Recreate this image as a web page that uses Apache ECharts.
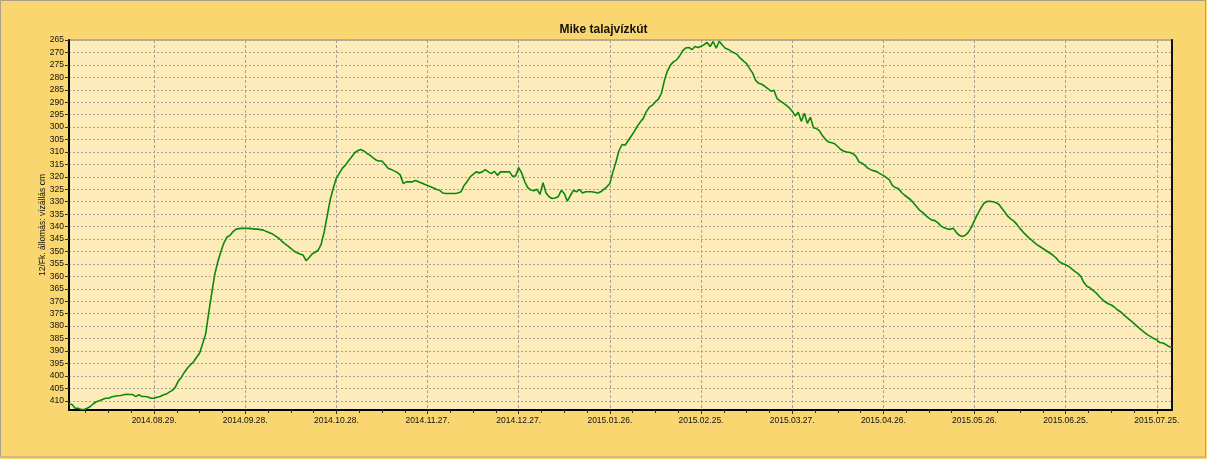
<!DOCTYPE html>
<html>
<head>
<meta charset="utf-8">
<script src="https://cdn.jsdelivr.net/npm/echarts@6/dist/echarts.min.js"></script>
<style>
  html, body { margin: 0; padding: 0; background: #fff; }
  #chart { width: 1207px; height: 459px; }
</style>
</head>
<body>
<div id="chart"></div>
<script>
// daily water level (cm below reference), first value = 2014-08-01
var startDate = [2014, 7, 1];
var levelsAug = [411.3, 411.5, 413, 413, 413.5, 413.5, 413, 412.3, 411.2, 410.4, 410, 409.5, 409, 409, 408.5, 408.2, 408, 407.9, 407.6, 407.4, 407.5, 407.5, 408.3, 407.5, 408.3, 408.3, 408.5, 409, 409, 408.6, 408.3];
var levelsSep = [407.7, 407.3, 406.5, 405.8, 404.5, 402, 400.5, 398.5, 396.8, 395.5, 394.3, 392.5, 390.8, 387, 383, 374.5, 366.5, 359, 354, 350, 346.5, 344.2, 343.5, 342, 341, 340.8, 340.7, 340.7, 340.7, 340.8];
var levelsOct = [341, 341, 341.2, 341.4, 342, 342.5, 343, 343.8, 344.6, 345.8, 346.8, 347.7, 348.7, 349.8, 350.5, 351, 351.4, 353.7, 352.5, 351, 350.3, 349.5, 347, 342, 335.5, 329, 324.5, 320.5, 318.5, 316.5, 315.3];
var levelsNov = [313.5, 312, 310.3, 309.5, 309, 309.6, 310.5, 311.3, 312.3, 313.2, 313.6, 313.6, 315, 316.5, 317, 317.6, 318.2, 319.2, 322.7, 322, 322, 322, 321.5, 322, 322.5, 323, 323.5, 324, 324.5, 325.1];
var levelsDec = [325.4, 326.5, 326.7, 326.7, 326.7, 326.7, 326.5, 326, 323.5, 322, 320, 319, 318, 318.4, 318, 317.1, 318, 318.7, 317.8, 319.4, 318, 318, 318, 318, 319.8, 319.6, 316.3, 318.5, 322, 324.3, 325.3];
var levelsJan = [325.6, 325, 327, 322.4, 326.5, 328, 328.7, 328.5, 328, 325.4, 326.7, 329.8, 327.5, 325.4, 326, 325.1, 326.5, 326, 326, 326, 326.2, 326.5, 326, 325, 324, 322.7, 318, 314, 309.5, 307, 307.3];
var levelsFeb = [305.5, 303.7, 301.8, 299.7, 298, 296.5, 293.8, 292, 291.2, 289.8, 288.8, 286.3, 281, 277.3, 275, 273.7, 273, 271.3, 269.3, 268.2, 268, 268.9, 267.6, 268, 267.5, 266.9, 266, 267.6];
var levelsMar = [265.6, 268.3, 265.5, 267, 268.3, 268.8, 269.6, 270.2, 271, 272.4, 273.5, 274.5, 276.5, 278.3, 281.3, 282.4, 282.8, 283.6, 284.5, 285.6, 285.2, 288.5, 289.5, 290.3, 291.2, 292.2, 293.6, 295.5, 294, 297.7, 294.4];
var levelsApr = [298.5, 296, 300.3, 300.6, 301.5, 303.5, 305, 306, 306.3, 306.7, 307.8, 309, 309.7, 310, 310.2, 310.7, 311.8, 314, 314.5, 315.5, 316.6, 317.2, 317.6, 318, 318.8, 319.4, 320.3, 321.2, 323.5, 324.3];
var levelsMay = [324.8, 326.3, 327.4, 328.3, 329.2, 330.6, 332, 333.5, 334.4, 335.6, 336.6, 337.4, 337.6, 338.5, 339.8, 340.5, 340.9, 341.1, 340.7, 342.3, 343.5, 344, 343.5, 342.2, 340.2, 337.5, 335, 332.8, 330.8, 329.9, 329.8];
var levelsJun = [330, 330.3, 331, 332.6, 334.2, 335.9, 337, 337.8, 339.2, 340.8, 342.2, 343.4, 344.6, 345.6, 346.7, 347.6, 348.4, 349.2, 350, 350.8, 351.7, 352.8, 354.2, 354.8, 355.3, 356, 357, 358, 358.8, 360];
var levelsJul = [362.5, 364, 364.6, 365.6, 366.6, 368, 369.2, 370.2, 371, 371.5, 372.3, 373.4, 374.2, 375.3, 376.4, 377.4, 378.4, 379.5, 380.6, 381.6, 382.6, 383.5, 384.2, 385, 385.5, 386.6, 386.8, 387.4, 388.2, 388.6];

var tickLabels = ['2014.08.29.', '2014.09.28.', '2014.10.28.', '2014.11.27.', '2014.12.27.', '2015.01.26.',
                  '2015.02.25.', '2015.03.27.', '2015.04.26.', '2015.05.26.', '2015.06.25.', '2015.07.25.'];

var DAY = 86400000;
var t0 = Date.UTC(startDate[0], startDate[1], startDate[2]);

function dayOf(label) {
  var p = label.split('.');
  return Math.round((Date.UTC(+p[0], +p[1] - 1, +p[2]) - t0) / DAY);
}
function fmtDay(d) {
  var dt = new Date(t0 + d * DAY);
  var mm = ('0' + (dt.getUTCMonth() + 1)).slice(-2);
  var dd = ('0' + dt.getUTCDate()).slice(-2);
  return dt.getUTCFullYear() + '.' + mm + '.' + dd + '.';
}

var levels = [].concat(levelsAug, levelsSep, levelsOct, levelsNov, levelsDec, levelsJan,
                       levelsFeb, levelsMar, levelsApr, levelsMay, levelsJun, levelsJul);
var seriesData = levels.map(function (v, i) { return [i, v]; });

var tickDays = tickLabels.map(dayOf);
// three minor ticks before each major one (quarters of the 30 day step)
var minorDays = [];
tickDays.concat([tickDays[tickDays.length - 1] + 30]).forEach(function (d) {
  minorDays.push(d - 22.5, d - 15, d - 7.5);
});

var xMax = levels.length - 1;
var yMin = 265, yMax = 413.7;

var font = 'Liberation Sans, Arial, sans-serif';
var chart = echarts.init(document.getElementById('chart'));
chart.setOption({
  animation: false,
  backgroundColor: '#F9D670',
  title: {
    text: 'Mike talajvízkút',
    left: 'center',
    top: 19,
    textStyle: { fontSize: 12, fontWeight: 'bold', color: '#111', fontFamily: font }
  },
  graphic: [{
    type: 'rect',
    shape: { x: 0.5, y: 0.5, width: 1205, height: 456.5 },
    style: { fill: null, stroke: '#a8a08a', lineWidth: 1 },
    silent: true
  }],
  grid: {
    left: 69, right: 35, top: 40, bottom: 49,
    show: true,
    backgroundColor: '#FDECBA',
    borderColor: '#8a8266',
    borderWidth: 1
  },
  xAxis: [{
    type: 'value',
    min: 0, max: xMax,
    axisLine: { show: true, onZero: false, lineStyle: { color: '#000', width: 2 } },
    axisTick: { show: true, length: 4, customValues: tickDays, lineStyle: { color: '#333' } },
    axisLabel: {
      customValues: tickDays,
      formatter: function (v) { return fmtDay(v); },
      fontSize: 8.5, color: '#111', margin: 6, fontFamily: font
    },
    splitLine: { show: true, lineStyle: { color: '#a6a296', type: [3, 2], width: 1 } }
  }, {
    type: 'value',
    min: 0, max: xMax,
    position: 'bottom',
    axisLine: { show: false },
    axisTick: { show: true, length: 3, customValues: minorDays, lineStyle: { color: '#333' } },
    axisLabel: { show: false },
    splitLine: { show: false }
  }],
  yAxis: [{
    type: 'value',
    inverse: true,
    min: yMin, max: yMax, interval: 5,
    name: '12/Fk. állomás: vízállás cm',
    nameLocation: 'middle',
    nameGap: 22,
    nameMoveOverlap: false,
    nameTextStyle: { fontSize: 8.5, color: '#111', fontFamily: font },
    axisLine: { show: true, onZero: false, lineStyle: { color: '#000', width: 2 } },
    axisTick: { show: true, length: 4, lineStyle: { color: '#333' } },
    axisLabel: { fontSize: 8.5, color: '#111', margin: 5, showMaxLabel: false, fontFamily: font },
    splitLine: { show: true, lineStyle: { color: '#a6a296', type: [2, 2], width: 1 } }
  }, {
    type: 'value',
    inverse: true,
    position: 'right',
    min: yMin, max: yMax,
    axisLine: { show: true, onZero: false, lineStyle: { color: '#111', width: 2 } },
    axisTick: { show: false },
    axisLabel: { show: false },
    splitLine: { show: false }
  }],
  series: [{
    type: 'line',
    data: seriesData,
    showSymbol: false,
    symbol: 'none',
    lineStyle: { color: '#0b890b', width: 1.6 },
    clip: true
  }]
});
</script>
</body>
</html>
